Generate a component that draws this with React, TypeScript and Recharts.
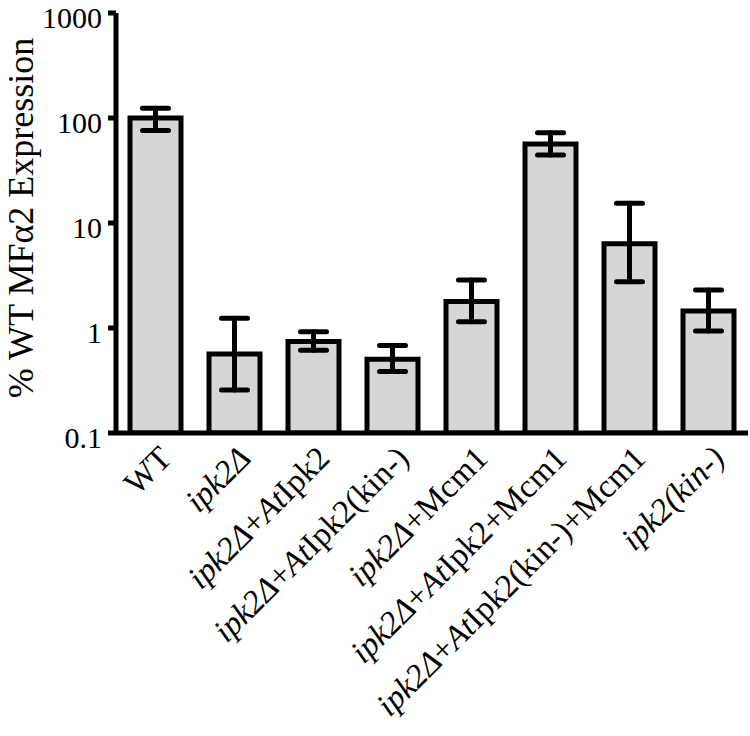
import React from 'react';
import { BarChart, Bar, XAxis, YAxis, ErrorBar, Label } from 'recharts';

// Categories (strain names)
const categories = [
  'WT',
  'ipk2Δ',
  'ipk2Δ+AtIpk2',
  'ipk2Δ+AtIpk2(kin-)',
  'ipk2Δ+Mcm1',
  'ipk2Δ+AtIpk2+Mcm1',
  'ipk2Δ+AtIpk2(kin-)+Mcm1',
  'ipk2(kin-)',
];

// Label fragments: [text, italic]
const labelParts: [string, boolean][][] = [
  [['WT', false]],
  [['ipk2Δ', true]],
  [['ipk2Δ', true], ['+', false], ['At', true], ['Ipk2', false]],
  [['ipk2Δ', true], ['+', false], ['At', true], ['Ipk2(kin-)', false]],
  [['ipk2Δ', true], ['+Mcm1', false]],
  [['ipk2Δ', true], ['+', false], ['At', true], ['Ipk2+Mcm1', false]],
  [['ipk2Δ', true], ['+', false], ['At', true], ['Ipk2(kin-)+Mcm1', false]],
  [['ipk2(kin-)', true]],
];

// Values (% WT expression)
const means = [100, 0.565, 0.745, 0.505, 1.79, 56.5, 6.35, 1.45];
const upperValues = [124, 1.24, 0.92, 0.68, 2.87, 72.4, 15.4, 2.3];
const lowerValues = [76, 0.257, 0.615, 0.385, 1.15, 44.4, 2.76, 0.935];

const yTicks = [0.1, 1, 10, 100, 1000];
const yTickLabels = ['0.1', '1', '10', '100', '1000'];

const data = categories.map((name, i) => ({
  name,
  value: means[i],
  err: [means[i] - lowerValues[i], upperValues[i] - means[i]],
}));

const FONT = '"Liberation Serif", "Times New Roman", serif';

const XTick = (props: any) => {
  const { x, y, index } = props;
  const parts = labelParts[index] || [];
  const ax = x + 18;
  const ay = y + 27;
  return (
    <text
      x={ax}
      y={ay}
      transform={`rotate(-45 ${ax} ${ay})`}
      textAnchor="end"
      fontFamily={FONT}
      fontSize={33}
      fill="#000"
    >
      {parts.map(([t, it], i) => (
        <tspan key={i} fontStyle={it ? 'italic' : 'normal'}>
          {t}
        </tspan>
      ))}
    </text>
  );
};

const YLabel = () => (
  <text
    x={33}
    y={218}
    transform="rotate(-90 33 218)"
    textAnchor="middle"
    fontFamily={FONT}
    fontSize={36}
    fill="#000"
  >
    % WT MFα2 Expression
  </text>
);

export default function App() {
  return (
    <div style={{ width: 750, height: 736, background: '#fff' }}>
      <style>{'body{margin:0;background:#fff;}'}</style>
      <BarChart
        width={750}
        height={736}
        data={data}
        margin={{ top: 13, right: 2, bottom: 0, left: 0 }}
      >
        <XAxis
          dataKey="name"
          interval={0}
          tickLine={false}
          tickSize={0}
          tickMargin={0}
          axisLine={{ stroke: '#000', strokeWidth: 5 }}
          tick={<XTick />}
          height={303}
        />
        <YAxis
          scale="log"
          domain={[0.1, 1000]}
          allowDataOverflow
          ticks={yTicks}
          interval={0}
          tickFormatter={(v: number) => yTickLabels[yTicks.indexOf(v)] ?? String(v)}
          width={116}
          tickSize={8}
          tickMargin={6}
          axisLine={{ stroke: '#000', strokeWidth: 5 }}
          tickLine={{ stroke: '#000', strokeWidth: 5 }}
          tick={{ fontFamily: FONT, fontSize: 30, fill: '#000', dy: 4 }}
        >
          <Label content={<YLabel />} />
        </YAxis>
        <Bar
          dataKey="value"
          fill="#d6d6d6"
          stroke="#000"
          strokeWidth={5}
          barSize={51}
          isAnimationActive={false}
        >
          <ErrorBar
            dataKey="err"
            width={13}
            stroke="#000"
            strokeWidth={5}
            strokeLinecap="round"
            isAnimationActive={false}
          />
        </Bar>
      </BarChart>
    </div>
  );
}
